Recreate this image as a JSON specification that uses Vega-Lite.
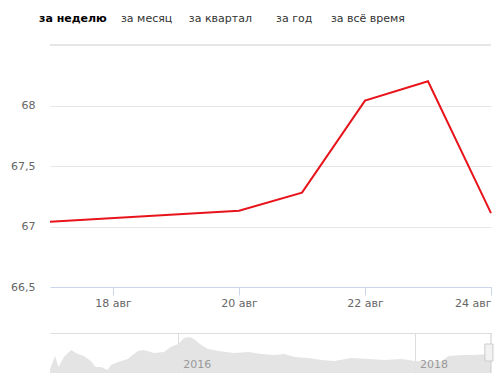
{
  "$schema": "https://vega.github.io/schema/vega-lite/v6.json",
  "padding": {"left": 10, "top": 4, "right": 5, "bottom": 5},
  "background": "white",
  "spacing": 10,
  "config": {"view": {"stroke": null}, "font": "DejaVu Sans"},
  "vconcat": [
    {
      "width": 441,
      "height": 30,
      "data": {"values": [
        {"tab": "за неделю", "active": true},
        {"tab": "за месяц", "active": false},
        {"tab": "за квартал", "active": false},
        {"tab": "за год", "active": false},
        {"tab": "за всё время", "active": false}
      ]},
      "layer": [
        {
          "transform": [{"filter": "datum.active"}],
          "mark": {"type": "text", "fontSize": 11, "fontWeight": "bold", "color": "#000000"},
          "encoding": {
            "x": {"field": "tab", "type": "nominal", "sort": null, "scale": {"type": "point", "domain": ["за неделю", "за месяц", "за квартал", "за год", "за всё время"], "padding": 0.99, "align": 0.157}, "axis": null},
            "text": {"field": "tab"}
          }
        },
        {
          "transform": [{"filter": "!datum.active"}],
          "mark": {"type": "text", "fontSize": 11, "color": "#333333"},
          "encoding": {
            "x": {"field": "tab", "type": "nominal", "sort": null, "axis": null},
            "text": {"field": "tab"}
          }
        }
      ]
    },
    {
      "width": 441,
      "height": 242,
      "data": {"values": [
        {"date": "2018-08-17", "rate": 67.04},
        {"date": "2018-08-20", "rate": 67.13},
        {"date": "2018-08-21", "rate": 67.28},
        {"date": "2018-08-22", "rate": 68.04},
        {"date": "2018-08-23", "rate": 68.2},
        {"date": "2018-08-24", "rate": 67.11}
      ]},
      "layer": [
        {
          "mark": {"type": "rule", "color": "#e6e6e6"},
          "encoding": {"y": {"datum": 68.5, "type": "quantitative",
            "scale": {"domain": [66.5, 68.5], "zero": false, "nice": false},
            "axis": {
                "values": [66.5, 67, 67.5, 68],
                "labelExpr": "replace(format(datum.value, '.1~f'), '.', ',')",
                "grid": true, "gridColor": "#e6e6e6", "domain": false, "ticks": false,
                "labelPadding": 15, "labelColor": "#666666", "labelFontSize": 11, "title": null
              }}}
        },
        {
          "mark": {"type": "line", "color": "#e8141b", "strokeWidth": 2},
          "encoding": {
            "x": {
              "field": "date", "type": "temporal",
              "scale": {"type": "utc", "domain": [{"year": 2018, "month": 8, "date": 17, "utc": true}, {"year": 2018, "month": 8, "date": 24, "utc": true}]},
              "axis": {
                "values": [{"year": 2018, "month": 8, "date": 18, "utc": true}, {"year": 2018, "month": 8, "date": 20, "utc": true}, {"year": 2018, "month": 8, "date": 22, "utc": true}, {"year": 2018, "month": 8, "date": 24, "utc": true}],
                "labelExpr": "utcFormat(datum.value, '%-d') + ' авг'",
                "grid": false, "title": null,
                "domainColor": "#ccd6eb", "tickColor": "#ccd6eb", "tickSize": 8,
                "labelPadding": 2, "labelColor": "#666666", "labelFontSize": 11,
                "minExtent": 35, "maxExtent": 35
              }
            },
            "y": {
              "field": "rate", "type": "quantitative",
              "scale": {"domain": [66.5, 68.5], "zero": false, "nice": false},
              "axis": {
                "values": [66.5, 67, 67.5, 68],
                "labelExpr": "replace(format(datum.value, '.1~f'), '.', ',')",
                "grid": true, "gridColor": "#e6e6e6", "domain": false, "ticks": false,
                "labelPadding": 15, "labelColor": "#666666", "labelFontSize": 11, "title": null
              }
            }
          }
        }
      ]
    },
    {
      "width": 441,
      "height": 40,
      "data": {"values": [
        {"date": "2014-12-01", "v": 51},
        {"date": "2014-12-17", "v": 64},
        {"date": "2014-12-27", "v": 53},
        {"date": "2015-01-13", "v": 63},
        {"date": "2015-02-04", "v": 70},
        {"date": "2015-02-25", "v": 66},
        {"date": "2015-03-15", "v": 64},
        {"date": "2015-04-06", "v": 59},
        {"date": "2015-04-21", "v": 53},
        {"date": "2015-05-07", "v": 53},
        {"date": "2015-05-28", "v": 50},
        {"date": "2015-06-07", "v": 55},
        {"date": "2015-06-29", "v": 58},
        {"date": "2015-07-29", "v": 61},
        {"date": "2015-08-29", "v": 69},
        {"date": "2015-09-17", "v": 70},
        {"date": "2015-10-18", "v": 67},
        {"date": "2015-11-18", "v": 68},
        {"date": "2015-12-09", "v": 73},
        {"date": "2016-01-01", "v": 76},
        {"date": "2016-01-19", "v": 82},
        {"date": "2016-02-04", "v": 83},
        {"date": "2016-02-19", "v": 81},
        {"date": "2016-03-12", "v": 75},
        {"date": "2016-04-02", "v": 71},
        {"date": "2016-05-04", "v": 69},
        {"date": "2016-06-22", "v": 67},
        {"date": "2016-08-04", "v": 68},
        {"date": "2016-09-14", "v": 66},
        {"date": "2016-10-24", "v": 65},
        {"date": "2016-11-24", "v": 66},
        {"date": "2016-12-25", "v": 63},
        {"date": "2017-02-06", "v": 62},
        {"date": "2017-03-18", "v": 60},
        {"date": "2017-04-27", "v": 59},
        {"date": "2017-06-19", "v": 62},
        {"date": "2017-08-11", "v": 61},
        {"date": "2017-09-29", "v": 60},
        {"date": "2017-11-21", "v": 61},
        {"date": "2018-01-01", "v": 59},
        {"date": "2018-03-03", "v": 58},
        {"date": "2018-03-25", "v": 59},
        {"date": "2018-04-15", "v": 64},
        {"date": "2018-05-25", "v": 65},
        {"date": "2018-07-04", "v": 65},
        {"date": "2018-08-17", "v": 66},
        {"date": "2018-08-24", "v": 66}
      ]},
      "layer": [
        {
          "mark": {"type": "area", "color": "#e4e4e4", "opacity": 1},
          "encoding": {
            "x": {
              "field": "date", "type": "temporal",
              "scale": {"type": "utc", "domain": [{"year": 2014, "month": 12, "date": 1, "utc": true}, {"year": 2018, "month": 8, "date": 24, "utc": true}]},
              "axis": {
                "orient": "top",
                "values": [{"year": 2016, "month": 1, "date": 1, "utc": true}, {"year": 2018, "month": 1, "date": 1, "utc": true}],
                "grid": true, "gridColor": "#dddddd", "labels": false, "ticks": false,
                "domain": true, "domainColor": "#dddddd", "title": null
              }
            },
            "y": {"field": "v", "type": "quantitative", "scale": {"domain": [47, 87], "zero": false, "nice": false}, "axis": null},
            "y2": {"datum": 47}
          }
        },
        {
          "data": {"values": [{"date": "2016-01-01", "label": "2016", "v": 55}, {"date": "2018-01-01", "label": "2018", "v": 55}]},
          "mark": {"type": "text", "align": "left", "dx": 5, "baseline": "middle", "fontSize": 11, "color": "#999999"},
          "encoding": {
            "x": {"field": "date", "type": "temporal",
              "axis": {
                "orient": "top",
                "values": [{"year": 2016, "month": 1, "date": 1, "utc": true}, {"year": 2018, "month": 1, "date": 1, "utc": true}],
                "grid": true, "gridColor": "#dddddd", "labels": false, "ticks": false,
                "domain": true, "domainColor": "#dddddd", "title": null
              }},
            "y": {"field": "v", "type": "quantitative", "axis": null},
            "text": {"field": "label"}
          }
        },
        {
          "data": {"values": [{"date": "2018-08-24"}]},
          "mark": {"type": "rule", "color": "#cccccc"},
          "encoding": {"x": {"field": "date", "type": "temporal",
              "axis": {
                "orient": "top",
                "values": [{"year": 2016, "month": 1, "date": 1, "utc": true}, {"year": 2018, "month": 1, "date": 1, "utc": true}],
                "grid": true, "gridColor": "#dddddd", "labels": false, "ticks": false,
                "domain": true, "domainColor": "#dddddd", "title": null
              }}}
        },
        {
          "data": {"values": [{"start": "2018-08-05", "end": "2018-08-30", "lo": 59, "hi": 76}]},
          "mark": {"type": "rect", "fill": "#f2f2f2", "stroke": "#cccccc", "strokeWidth": 1},
          "encoding": {
            "x": {"field": "start", "type": "temporal",
              "axis": {
                "orient": "top",
                "values": [{"year": 2016, "month": 1, "date": 1, "utc": true}, {"year": 2018, "month": 1, "date": 1, "utc": true}],
                "grid": true, "gridColor": "#dddddd", "labels": false, "ticks": false,
                "domain": true, "domainColor": "#dddddd", "title": null
              }},
            "x2": {"field": "end"},
            "y": {"field": "lo", "type": "quantitative", "axis": null},
            "y2": {"field": "hi"}
          }
        }
      ]
    }
  ]
}
